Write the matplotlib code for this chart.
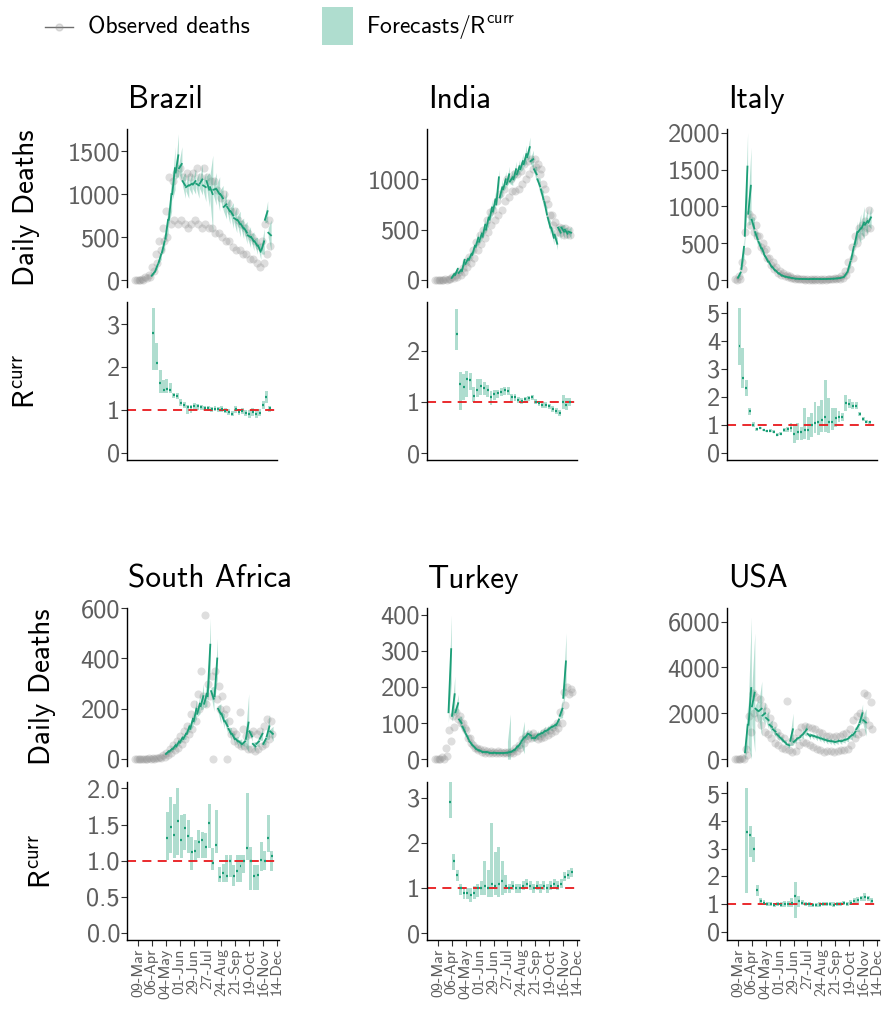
import numpy as np
import pandas as pd
import matplotlib
matplotlib.use('Agg')
import matplotlib.pyplot as plt
import matplotlib.dates as mdates
from matplotlib.patches import Rectangle
from matplotlib.lines import Line2D

#---------------Data---------------------------------
# weekly samples, week 0 starts 02-Mar-2020
brazil_obs_hi = [0,0,10,30,60,150,300,450,600,800,1200,1150,1250,1300,1200,1250,1200,1250,1300,1200,
                 1300,1200,1150,1150,1050,950,1000,900,800,800,700,650,600,550,500,450,400,450,650,700]
brazil_obs_lo = [0,0,5,20,40,100,200,350,450,500,650,700,650,700,650,600,650,700,650,600,
                 650,600,600,550,550,500,450,450,380,350,350,300,300,250,250,200,150,200,300,400]
brazil_fc_k0 = 5
brazil_fc_start = [50,100,200,320,480,700,1000,1250,1300,1150,1080,1100,1110,1120,1120,1100,1150,1080,
                   1050,1050,1000,850,850,800,720,700,650,600,520,500,450,400,350,700,550]
brazil_fc_end = [90,180,300,450,700,1000,1300,1450,1350,1100,1100,1120,1150,1100,1170,1080,1050,1000,
                 1060,1000,950,880,800,750,700,650,600,550,500,450,400,330,450,800,520]
brazil_fc_hi = [110,220,360,540,850,1200,1550,1700,1550,1250,1250,1250,1300,1250,1350,1250,1250,1450,
                1250,1200,1100,1050,950,900,850,800,720,680,620,560,500,420,600,920,700]
brazil_r_k0 = 5
brazil_r_med = [2.79,2.09,1.62,1.47,1.48,1.47,1.34,1.33,1.17,1.12,1.06,1.06,1.09,1.08,1.06,1.05,1.04,1.02,
                1.03,1.02,1.03,0.98,0.94,0.91,1.02,0.95,0.98,0.92,0.91,0.96,0.91,0.93,1.12,1.31,1.04]
brazil_r_lo = [1.93,1.93,1.39,1.39,1.40,1.40,1.28,1.26,1.10,1.05,0.90,0.92,1.00,1.00,1.00,0.99,0.98,0.96,
               0.97,0.95,0.95,0.92,0.87,0.85,0.93,0.88,0.90,0.85,0.82,0.86,0.80,0.85,1.02,1.15,0.95]
brazil_r_hi = [3.37,2.56,1.93,1.70,1.72,1.62,1.40,1.40,1.25,1.18,1.12,1.12,1.15,1.14,1.11,1.10,1.09,1.07,
               1.08,1.07,1.08,1.04,1.01,0.98,1.08,1.02,1.05,0.99,1.00,1.04,1.00,1.02,1.20,1.45,1.10]

india_obs_hi = [0,0,2,5,10,30,50,80,120,180,230,300,380,450,500,600,680,700,780,850,
                900,1000,1000,1050,1050,1080,1150,1180,1200,1200,1150,1100,900,750,650,580,530,520,520,500]
india_obs_lo = [0,0,0,2,5,15,30,50,80,130,170,220,300,360,420,480,550,600,650,700,
                780,820,880,880,900,950,1000,1050,1100,1120,1050,950,800,650,550,480,470,450,460,450]
india_fc_k0 = 5
india_fc_start = [20,50,70,90,160,200,250,330,380,430,500,600,680,750,820,900,950,980,1000,1050,
                  1100,1150,1220,1180,1100,1000,900,780,620,520,450,520,520,500,480]
india_fc_end = [60,110,100,200,210,260,340,420,460,550,620,720,800,1020,920,1000,1050,1020,1100,1130,
                1180,1250,1320,1200,1050,930,800,650,520,420,360,470,480,460,470]
india_fc_hi = [80,140,130,240,250,300,390,480,520,620,700,800,880,1100,1000,1080,1130,1100,1180,1200,
               1260,1340,1420,1290,1130,1010,880,720,590,490,420,540,550,520,530]
india_r_k0 = 6
india_r_med = [2.35,1.37,1.31,1.45,1.44,1.12,1.24,1.32,1.29,1.25,1.10,1.16,1.18,1.21,1.24,1.23,1.10,
               1.10,1.05,1.03,1.06,1.08,1.10,1.01,0.98,0.95,0.95,0.92,0.88,0.84,0.80,1.01,0.95,1.00]
india_r_lo = [2.03,0.85,1.05,1.10,1.25,1.00,1.10,1.15,1.15,1.10,0.95,1.05,1.08,1.12,1.15,1.15,1.02,
              1.02,0.98,0.97,1.00,1.02,1.04,0.96,0.93,0.90,0.90,0.87,0.82,0.78,0.74,0.88,0.85,0.92]
india_r_hi = [2.84,1.60,1.55,1.62,1.58,1.30,1.45,1.45,1.40,1.35,1.22,1.25,1.25,1.28,1.30,1.30,1.17,
              1.17,1.10,1.08,1.11,1.13,1.15,1.06,1.03,1.00,1.00,0.97,0.93,0.89,0.86,1.14,1.08,1.08]

italy_obs_hi = [10,50,250,650,900,850,750,600,500,420,300,250,180,120,90,70,50,30,25,20,
                15,15,12,10,10,10,12,15,20,25,30,50,120,250,450,600,700,750,800,950]
italy_obs_lo = [5,20,150,400,750,650,600,450,400,300,200,150,100,70,50,40,25,15,10,10,
                5,5,5,5,5,5,5,8,10,15,20,30,70,150,300,500,600,650,700,700]
italy_fc_k0 = 1
italy_fc_start = [30,150,600,900,820,650,520,430,320,250,180,130,90,60,45,35,25,18,15,14,
                  13,12,12,12,12,13,14,16,18,22,30,50,120,280,480,650,700,750,780]
italy_fc_end = [100,450,1540,1280,700,550,430,330,250,180,130,90,60,45,35,25,18,15,14,13,
                12,12,12,12,13,14,16,18,22,28,40,100,250,450,650,700,780,800,850]
italy_fc_hi = [140,600,2000,1800,850,650,500,380,290,210,150,105,70,55,42,30,22,18,17,16,
               15,15,15,15,16,17,19,21,26,33,50,130,320,560,800,900,1000,980,1000]
italy_r_k0 = 1
italy_r_med = [3.81,2.65,2.30,1.49,0.99,0.83,0.89,0.81,0.77,0.79,0.75,0.65,0.67,0.81,0.83,0.90,0.67,0.75,
               0.75,0.81,0.81,0.99,1.05,1.10,1.17,1.26,1.10,1.10,1.23,1.29,1.27,1.76,1.73,1.67,1.67,
               1.37,1.20,1.11,1.08]
italy_r_lo = [3.13,2.30,2.02,1.35,0.93,0.78,0.84,0.77,0.73,0.74,0.70,0.60,0.62,0.75,0.75,0.75,0.33,0.45,
              0.45,0.50,0.45,0.57,0.70,0.63,0.75,0.75,0.69,0.80,0.93,1.10,1.15,1.50,1.60,1.55,1.55,
              1.30,1.12,1.05,1.02]
italy_r_hi = [5.15,3.73,2.60,1.60,1.10,0.90,0.93,0.86,0.82,0.84,0.80,0.72,0.74,0.88,0.92,1.05,0.98,1.05,
              0.93,1.58,1.28,1.40,1.80,1.65,1.88,2.58,1.95,1.60,1.58,1.50,1.42,2.05,1.90,1.80,1.80,
              1.45,1.28,1.18,1.14]

safrica_obs_hi = [0,0,0,1,2,3,5,8,15,25,40,55,70,90,110,130,180,220,260,350,
                  575,300,330,350,290,250,200,150,110,100,185,120,90,100,110,100,110,130,160,150]
safrica_obs_lo = [0,0,0,0,0,1,2,4,8,15,25,35,45,60,80,100,120,150,200,250,
                  220,250,0,240,200,180,0,100,70,60,50,50,40,40,30,40,50,60,80,100]
safrica_fc_k0 = 9
safrica_fc_start = [20,30,40,50,65,80,100,120,150,180,210,220,250,270,250,200,180,150,120,100,
                    80,70,60,80,110,60,60,80,60,90,110]
safrica_fc_end = [30,40,55,70,85,100,130,160,200,220,250,260,455,240,400,180,150,130,100,80,
                  70,60,70,145,90,50,70,100,80,130,100]
safrica_fc_hi = [40,50,70,85,100,120,150,190,240,260,300,310,560,290,480,220,180,160,125,100,
                 90,80,90,260,110,70,90,125,100,180,130]
safrica_r_k0 = 9
safrica_r_med = [1.31,1.47,1.35,1.55,1.28,1.45,1.34,1.12,1.14,1.26,1.29,1.19,1.52,0.97,1.22,0.77,
                 0.83,0.79,0.99,0.79,0.85,0.92,1.00,1.18,1.00,0.79,0.80,1.01,1.00,1.31,1.06]
safrica_r_lo = [1.01,1.10,1.03,1.08,1.03,1.15,1.10,0.87,1.01,1.03,1.03,1.03,1.17,0.87,1.10,0.71,
                0.71,0.71,0.77,0.65,0.71,0.71,0.83,1.01,0.59,0.59,0.59,0.85,0.87,1.12,0.85]
safrica_r_hi = [1.68,1.88,1.79,2.00,1.63,1.65,1.56,1.33,1.28,1.42,1.40,1.38,1.79,1.17,1.70,0.91,
                0.95,1.08,1.08,0.94,1.08,1.08,1.08,1.94,1.19,0.94,0.94,1.26,1.13,1.63,1.14]

turkey_obs_hi = [0,0,5,30,80,120,130,120,100,80,60,40,30,28,25,22,22,20,22,20,
                 20,20,22,30,40,55,65,70,72,65,65,72,78,82,88,100,130,185,200,195]
turkey_obs_lo = [0,0,0,10,50,90,110,100,85,60,45,30,25,20,18,18,18,17,17,16,
                 16,16,17,22,30,45,55,60,62,55,58,62,68,72,78,85,100,150,180,185]
turkey_fc_k0 = 4
turkey_fc_start = [130,120,130,110,90,70,50,38,28,24,20,20,18,18,17,17,17,18,20,25,
                   35,50,60,70,60,60,68,72,78,85,90,95,120,170]
turkey_fc_end = [305,180,155,100,75,55,40,30,24,20,20,18,18,17,17,17,18,20,25,35,
                 45,60,70,65,60,68,72,78,82,90,95,110,140,271]
turkey_fc_hi = [400,230,180,120,90,65,48,36,29,25,24,22,22,21,21,21,22,125,32,45,
                60,105,85,80,72,80,85,92,95,100,105,125,165,350]
turkey_r_k0 = 4
turkey_r_med = [2.90,1.60,1.30,1.00,0.90,0.90,0.85,0.90,1.00,1.00,1.05,1.00,1.10,1.05,1.10,1.15,1.05,1.00,
                1.05,1.00,1.00,1.05,1.10,1.05,1.00,1.05,1.00,1.05,1.00,1.05,1.10,1.05,1.10,1.25,1.30,1.35]
turkey_r_lo = [2.55,1.40,1.15,0.85,0.75,0.75,0.70,0.75,0.80,0.85,0.85,0.80,0.80,0.85,0.80,0.85,0.90,0.90,
               0.95,0.90,0.90,0.95,1.00,0.95,0.90,0.95,0.90,0.95,0.90,0.95,1.00,0.95,1.00,1.15,1.20,1.25]
turkey_r_hi = [3.35,1.75,1.40,1.10,1.00,1.00,1.00,1.05,1.10,1.15,1.60,1.40,2.45,1.80,1.90,1.60,1.30,1.10,
               1.15,1.10,1.10,1.15,1.20,1.15,1.10,1.15,1.10,1.15,1.10,1.15,1.20,1.15,1.20,1.35,1.40,1.45]

usa_obs_hi = [0,5,50,450,1900,2900,2700,2600,2300,2100,1800,1500,1200,1000,900,2530,800,900,1200,1400,
              1450,1400,1350,1300,1200,1150,1000,1000,950,1000,1000,1100,1150,1300,1700,1900,2000,2900,2800,2500]
usa_obs_lo = [0,0,10,200,1200,2000,1800,1500,1200,1100,900,700,600,500,430,400,300,350,600,750,
              700,600,550,450,400,300,350,350,300,350,400,400,450,600,900,1100,1200,1700,1500,1300]
usa_fc_k0 = 3
usa_fc_start = [300,1500,2300,2200,2100,1900,1800,1500,1300,1100,950,800,650,800,750,900,1000,1150,1100,1050,
                1000,950,900,850,800,780,750,800,800,850,950,1050,1300,1600,1700]
usa_fc_end = [1500,3100,2900,2100,2200,2000,1700,1400,1200,1000,850,700,600,1300,850,950,1100,1300,1000,1000,
              950,900,850,800,780,750,780,780,850,900,1050,1200,1500,2000,1600]
usa_fc_hi = [2500,6200,5500,2600,3400,2500,2100,1700,1450,1200,1000,850,750,2000,1000,1100,1300,1600,1150,1150,
             1100,1050,1000,950,920,900,920,920,1000,1050,1250,1450,1800,2400,2200]
usa_r_k0 = 3
usa_r_med = [3.6,3.5,3.0,1.5,1.1,1.05,1.0,1.0,0.95,1.0,0.98,1.0,1.0,1.05,1.3,1.1,1.05,1.0,1.0,0.95,
             0.95,0.98,1.0,1.0,1.0,0.98,1.0,1.0,1.02,1.0,1.05,1.1,1.15,1.2,1.25,1.2,1.1]
usa_r_lo = [1.4,2.7,2.5,1.3,1.0,0.95,0.92,0.92,0.88,0.92,0.9,0.9,0.9,0.9,0.5,0.9,0.95,0.92,0.9,0.88,
            0.88,0.9,0.92,0.92,0.92,0.9,0.92,0.92,0.95,0.92,0.97,1.0,1.05,1.1,1.12,1.1,1.0]
usa_r_hi = [5.2,3.8,3.4,1.7,1.2,1.15,1.08,1.08,1.02,1.08,1.06,1.1,1.1,1.2,1.8,1.3,1.15,1.08,1.08,1.02,
            1.02,1.06,1.08,1.08,1.08,1.06,1.08,1.08,1.1,1.08,1.13,1.2,1.25,1.3,1.38,1.3,1.2]

# axis ticks and limits
brazil_dticks = [0, 500, 1000, 1500];          brazil_rticks = [0, 1, 2, 3]
india_dticks = [0, 500, 1000];                 india_rticks = [0, 1, 2]
italy_dticks = [0, 500, 1000, 1500, 2000];     italy_rticks = [0, 1, 2, 3, 4, 5]
safrica_dticks = [0, 200, 400, 600];           safrica_rticks = [0.0, 0.5, 1.0, 1.5, 2.0]
turkey_dticks = [0, 100, 200, 300, 400];       turkey_rticks = [0, 1, 2, 3]
usa_dticks = [0, 2000, 4000, 6000];            usa_rticks = [0, 1, 2, 3, 4, 5]

#---------------Style---------------------------------
plt.rcParams['font.family'] = ['cmss10', 'DejaVu Sans']
plt.rcParams['mathtext.fontset'] = 'custom'
plt.rcParams['mathtext.rm'] = 'cmss10'
plt.rcParams['mathtext.it'] = 'cmss10'
plt.rcParams['mathtext.bf'] = 'cmss10'
plt.rcParams['axes.unicode_minus'] = False

GREEN = '#1b9e77'
RIBBON = '#afddcf'
GREY_TXT = '#5e5e5e'
W, H = 882, 1010

weeks = mdates.date2num(pd.date_range('2020-03-02', periods=40, freq='7D').to_pydatetime())
xmin = mdates.date2num(pd.Timestamp('2020-02-16').to_pydatetime())
xmax = mdates.date2num(pd.Timestamp('2020-12-18').to_pydatetime())
tick_dates = pd.date_range('2020-03-09', periods=11, freq='28D')

fig = plt.figure(figsize=(W / 100, H / 100), dpi=100)


def add_ax(left, top, width, height):
    return fig.add_axes([left / W, 1 - (top + height) / H, width / W, height / H])


def style_ax(ax, ticks, ylim, fmt, show_bottom):
    ax.set_xlim(xmin, xmax)
    ax.set_ylim(*ylim)
    ax.set_yticks(ticks, [fmt.format(t) for t in ticks])
    for s in ['top', 'right']:
        ax.spines[s].set_visible(False)
    ax.spines['bottom'].set_visible(show_bottom)
    for s in ['left', 'bottom']:
        ax.spines[s].set_linewidth(1.0)
    ax.tick_params(axis='y', labelsize=19, labelcolor=GREY_TXT, color='#333333',
                   length=4, width=0.8, pad=1)
    ax.set_facecolor('none')


def draw_country(ax_d, ax_r, obs_hi, obs_lo, fc_k0, fc_start, fc_end, fc_hi, r_k0, r_med, r_lo, r_hi):
    # observed deaths
    ax_d.scatter(weeks + 1.5, obs_hi, s=34, color='#8a8a8a', alpha=0.28, lw=0, zorder=1)
    ax_d.scatter(weeks + 4.5, obs_lo, s=34, color='#8a8a8a', alpha=0.28, lw=0, zorder=1)
    # weekly forecasts
    for i in range(len(fc_start)):
        x0 = weeks[fc_k0 + i]
        s, e, h = fc_start[i], fc_end[i], fc_hi[i]
        w = h - e
        ax_d.fill_between([x0, x0 + 6], [max(s - 0.3 * w, 0), max(e - w, 0)], [s + 0.3 * w, h],
                          color=GREEN, alpha=0.32, lw=0, zorder=2)
        ax_d.plot([x0 + 0.3, x0 + 5.7], [s, e], color=GREEN, lw=1.3, zorder=3)
    # R
    for i in range(len(r_med)):
        x0 = weeks[r_k0 + i]
        ax_r.fill_between([x0 + 0.5, x0 + 6.5], r_lo[i], r_hi[i], color=RIBBON, lw=0, zorder=1)
        ax_r.plot([x0 + 1.5, x0 + 5.5], [r_med[i]] * 2, color=GREEN, lw=1.6,
                  solid_capstyle='butt', zorder=3)
    ax_r.axhline(1, color='#e8191c', ls=(0, (5, 3.5)), lw=1.3, zorder=2)


countries = [
    dict(name='Brazil', col=0, row=0, d=(brazil_obs_hi, brazil_obs_lo, brazil_fc_k0, brazil_fc_start,
         brazil_fc_end, brazil_fc_hi, brazil_r_k0, brazil_r_med, brazil_r_lo, brazil_r_hi),
         dt=brazil_dticks, rt=brazil_rticks, dlim=(-81, 1756), rlim=(-0.17, 3.52), rfmt='{:d}'),
    dict(name='India', col=1, row=0, d=(india_obs_hi, india_obs_lo, india_fc_k0, india_fc_start,
         india_fc_end, india_fc_hi, india_r_k0, india_r_med, india_r_lo, india_r_hi),
         dt=india_dticks, rt=india_rticks, dlim=(-70, 1500), rlim=(-0.13, 2.97), rfmt='{:d}'),
    dict(name='Italy', col=2, row=0, d=(italy_obs_hi, italy_obs_lo, italy_fc_k0, italy_fc_start,
         italy_fc_end, italy_fc_hi, italy_r_k0, italy_r_med, italy_r_lo, italy_r_hi),
         dt=italy_dticks, rt=italy_rticks, dlim=(-95, 2050), rlim=(-0.26, 5.38), rfmt='{:d}'),
    dict(name='South Africa', col=0, row=1, d=(safrica_obs_hi, safrica_obs_lo, safrica_fc_k0,
         safrica_fc_start, safrica_fc_end, safrica_fc_hi, safrica_r_k0, safrica_r_med, safrica_r_lo,
         safrica_r_hi),
         dt=safrica_dticks, rt=safrica_rticks, dlim=(-28, 601), rlim=(-0.1, 2.09), rfmt='{:.1f}'),
    dict(name='Turkey', col=1, row=1, d=(turkey_obs_hi, turkey_obs_lo, turkey_fc_k0, turkey_fc_start,
         turkey_fc_end, turkey_fc_hi, turkey_r_k0, turkey_r_med, turkey_r_lo, turkey_r_hi),
         dt=turkey_dticks, rt=turkey_rticks, dlim=(-19, 419), rlim=(-0.15, 3.35), rfmt='{:d}'),
    dict(name='USA', col=2, row=1, d=(usa_obs_hi, usa_obs_lo, usa_fc_k0, usa_fc_start, usa_fc_end,
         usa_fc_hi, usa_r_k0, usa_r_med, usa_r_lo, usa_r_hi),
         dt=usa_dticks, rt=usa_rticks, dlim=(-300, 6590), rlim=(-0.3, 5.4), rfmt='{:d}'),
]

col_left = [127, 427, 727]
row_geom = [dict(width=150, dtop=129, rtop=302, title=108),
            dict(width=152, dtop=608, rtop=782, title=588)]

for c in countries:
    g = row_geom[c['row']]
    left = col_left[c['col']]
    ax_d = add_ax(left, g['dtop'], g['width'], 158)
    ax_r = add_ax(left, g['rtop'], g['width'], 158)
    draw_country(ax_d, ax_r, *c['d'])
    style_ax(ax_d, c['dt'], c['dlim'], '{:d}', False)
    style_ax(ax_r, c['rt'], c['rlim'], c['rfmt'], True)
    ax_d.set_xticks([])
    if c['row'] == 0:
        ax_r.set_xticks([])
    else:
        ax_r.set_xticks(mdates.date2num(tick_dates.to_pydatetime()), tick_dates.strftime('%d-%b'))
        ax_r.tick_params(axis='x', labelsize=11.5, labelcolor=GREY_TXT, color='#333333',
                         length=4, width=0.8, rotation=90, pad=2)
    fig.text((left + 1) / W, 1 - g['title'] / H, c['name'], fontsize=22.5, va='baseline', ha='left')

# y axis titles
fig.text(27 / W, 1 - 208 / H, 'Daily Deaths', rotation=90, fontsize=21, va='center', ha='center')
fig.text(27 / W, 1 - 381 / H, r'R$^{\mathrm{curr}}$', rotation=90, fontsize=21, va='center', ha='center')
fig.text(43 / W, 1 - 687 / H, 'Daily Deaths', rotation=90, fontsize=21, va='center', ha='center')
fig.text(43 / W, 1 - 861 / H, r'R$^{\mathrm{curr}}$', rotation=90, fontsize=21, va='center', ha='center')

# legend
fig.add_artist(Line2D([45 / W, 73 / W], [1 - 27 / H] * 2, color='#6e6e6e', lw=1.0,
                      transform=fig.transFigure))
fig.add_artist(Line2D([59 / W], [1 - 27 / H], marker='o', ms=5, color='#8a8a8a', alpha=0.25, lw=0,
                      transform=fig.transFigure))
fig.text(88 / W, 1 - 27 / H, 'Observed deaths', fontsize=17, va='center', ha='left')
fig.add_artist(Rectangle((322 / W, 1 - 45 / H), 31 / W, 38 / H, color=RIBBON, lw=0,
                         transform=fig.transFigure))
fig.text(366 / W, 1 - 27 / H, r'Forecasts/R$^{\mathrm{curr}}$', fontsize=17, va='center', ha='left')

fig.savefig('out.png', dpi=100)
